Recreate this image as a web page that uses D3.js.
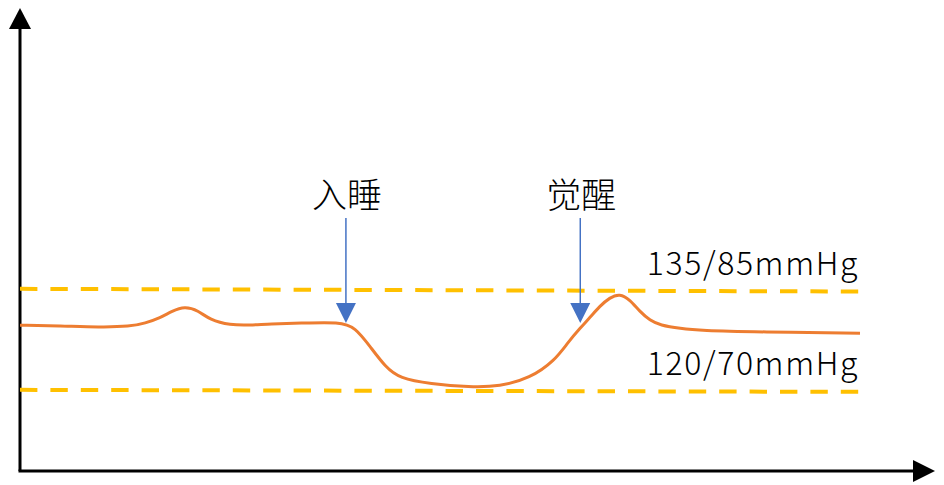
<!DOCTYPE html>
<html>
<head>
<meta charset="utf-8">
<script src="https://cdn.jsdelivr.net/npm/d3@7"></script>
<style>
  body { margin: 0; background: #fff; }
  svg { display: block; }
</style>
</head>
<body>
<svg id="chart" width="944" height="485"></svg>
<script>
// time position (0-100) and systolic pressure
const timePoints = [0, 4.8, 9.5, 13.1, 14.9, 16.7, 18.1, 19.6, 21.2, 22.6, 25.0, 27.4, 29.8, 33.3, 38.1, 39.9,
                    41.7, 43.5, 45.2, 48.8, 53.6, 57.1, 60.7, 63.7, 65.2, 66.7, 67.9, 69.0, 70.2, 71.4, 72.6,
                    73.8, 75.0, 76.2, 78.6, 81.0, 88.1, 100];
const pressure = [129.7, 129.6, 129.4, 129.5, 130.0, 130.8, 131.8, 132.5, 131.9, 130.5, 129.7, 129.7, 129.9, 130.0, 130.2, 129.4,
                  126.5, 123.5, 121.8, 121.0, 120.5, 120.6, 121.8, 124.5, 127.1, 129.3, 130.9, 132.5, 133.8, 134.4, 133.5,
                  131.7, 130.4, 129.7, 129.2, 128.9, 128.7, 128.5];

const thresholdLabels = ["135/85mmHg", "120/70mmHg"];
const thresholdStart = [135.1, 120.1];
const thresholdEnd = [134.7, 119.8];

const eventLabels = ["入睡", "觉醒"];
const eventTimes = [38.8, 66.7];

function drawChart() {
    const svg = d3.select("#chart");
    svg.selectAll("*").remove();

    const x = d3.scaleLinear().domain([0, 100]).range([20, 860]);
    const y = d3.scaleLinear().domain([108.2, 176.5]).range([470, 10]);

    const axisLeft = 20, axisBottom = 471;

    // axes with arrow heads
    svg.append("line")
        .attr("x1", axisLeft).attr("y1", axisBottom)
        .attr("x2", axisLeft).attr("y2", 26)
        .attr("stroke", "#000").attr("stroke-width", 3);
    svg.append("path")
        .attr("d", `M${axisLeft},8 L${axisLeft - 11},29 L${axisLeft + 11},29 Z`)
        .attr("fill", "#000");
    svg.append("line")
        .attr("x1", axisLeft - 1.5).attr("y1", axisBottom)
        .attr("x2", 916).attr("y2", axisBottom)
        .attr("stroke", "#000").attr("stroke-width", 3);
    svg.append("path")
        .attr("d", `M935,${axisBottom} L913,${axisBottom - 11} L913,${axisBottom + 11} Z`)
        .attr("fill", "#000");

    // threshold lines
    thresholdLabels.forEach((label, i) => {
        svg.append("line")
            .attr("x1", x(0)).attr("y1", y(thresholdStart[i]))
            .attr("x2", x(100)).attr("y2", y(thresholdEnd[i]))
            .attr("stroke", "#FFC000")
            .attr("stroke-width", 4)
            .attr("stroke-dasharray", "17.4 13");

        svg.append("text")
            .attr("x", 859)
            .attr("y", y(thresholdEnd[i]) - 17)
            .attr("text-anchor", "end")
            .attr("font-family", "'Noto Sans CJK SC', 'Noto Sans', sans-serif")
            .attr("font-weight", 300)
            .attr("font-size", 32)
            .attr("letter-spacing", 1.6)
            .attr("fill", "#000")
            .text(label);
    });

    // pressure curve
    const data = timePoints.map((t, i) => ({ t: t, v: pressure[i] }));
    const line = d3.line()
        .x(d => x(d.t))
        .y(d => y(d.v))
        .curve(d3.curveBasis);

    svg.append("path")
        .datum(data)
        .attr("fill", "none")
        .attr("stroke", "#ED7D31")
        .attr("stroke-width", 3)
        .attr("d", line);

    // event arrows
    eventLabels.forEach((label, i) => {
        const ex = x(eventTimes[i]);
        svg.append("line")
            .attr("x1", ex).attr("y1", 218)
            .attr("x2", ex).attr("y2", 305)
            .attr("stroke", "#4472C4").attr("stroke-width", 1.5);
        svg.append("path")
            .attr("d", `M${ex - 10},303 L${ex + 10},303 L${ex},323 Z`)
            .attr("fill", "#4472C4");
        svg.append("text")
            .attr("x", ex + 1)
            .attr("y", 192)
            .attr("text-anchor", "middle")
            .attr("dominant-baseline", "central")
            .attr("font-family", "'Noto Sans CJK SC', sans-serif")
            .attr("font-weight", 300)
            .attr("font-size", 35)
            .attr("fill", "#000")
            .text(label);
    });
}

drawChart();
</script>
</body>
</html>
